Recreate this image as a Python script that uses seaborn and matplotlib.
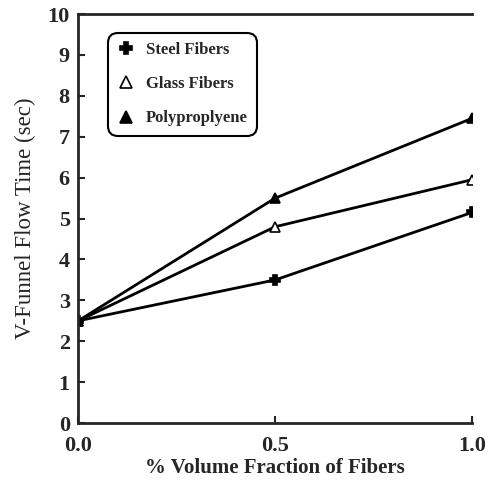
import pandas as pd
import matplotlib.pyplot as plt
import seaborn as sns
from matplotlib.lines import Line2D

sns.set_style("ticks")
plt.rcParams["font.family"] = ["Liberation Serif", "DejaVu Serif"]

# Datos
fraccion = [0.0, 0.5, 1.0]
acero = [2.5, 3.5, 5.15]
vidrio = [2.5, 4.8, 5.95]
polipropileno = [2.5, 5.5, 7.45]
series = ["Steel Fibers", "Glass Fibers", "Polyproplyene"]

df = pd.DataFrame({
    "x": fraccion * 3,
    "y": acero + vidrio + polipropileno,
    "serie": [s for s in series for _ in fraccion],
})

estilos = {
    "Steel Fibers": dict(marker="P", markerfacecolor="black"),
    "Glass Fibers": dict(marker="^", markerfacecolor="white"),
    "Polyproplyene": dict(marker="^", markerfacecolor="black"),
}

fig = plt.figure(figsize=(4.98, 4.83), dpi=100)
ax = fig.add_axes([0.157, 0.124, 0.791, 0.847])

for s in series:
    sns.lineplot(data=df[df["serie"] == s], x="x", y="y", ax=ax, color="black",
                 linewidth=2, markersize=7, markeredgecolor="black",
                 markeredgewidth=1.2, **estilos[s])

ax.set_xlim(0, 1)
ax.set_ylim(0, 10)
ax.set_xticks([0.0, 0.5, 1.0])
ax.set_xticklabels(["0.0", "0.5", "1.0"])
ax.set_yticks(range(0, 11))
ax.tick_params(direction="in", length=5, width=1.5, labelsize=16, pad=6)
ax.tick_params(axis="x", pad=9)
for lab in ax.get_xticklabels() + ax.get_yticklabels():
    lab.set_fontweight("bold")

for side in ["left", "bottom", "top"]:
    ax.spines[side].set_linewidth(2)
ax.spines["right"].set_visible(False)

ax.set_xlabel("% Volume Fraction of Fibers", fontsize=15, fontweight="bold", labelpad=2)
ax.set_ylabel("V-Funnel Flow Time (sec)", fontsize=16.5, labelpad=8)

handles = [Line2D([], [], color="black", linestyle="none", markersize=9,
                  markeredgecolor="black", markeredgewidth=1.2, **estilos[s])
           for s in series]
leg = ax.legend(handles, series, loc="upper left", bbox_to_anchor=(0.055, 0.975),
                frameon=True, fancybox=True, edgecolor="black", fontsize=12,
                handlelength=1.0, labelspacing=1.1, borderpad=0.55, handletextpad=0.7)
leg.get_frame().set_linewidth(1.5)
leg.get_frame().set_alpha(1)
leg.get_frame().set_boxstyle("round", pad=0, rounding_size=0.6)
for t in leg.get_texts():
    t.set_fontweight("bold")

fig.savefig("out.png", dpi=100)
